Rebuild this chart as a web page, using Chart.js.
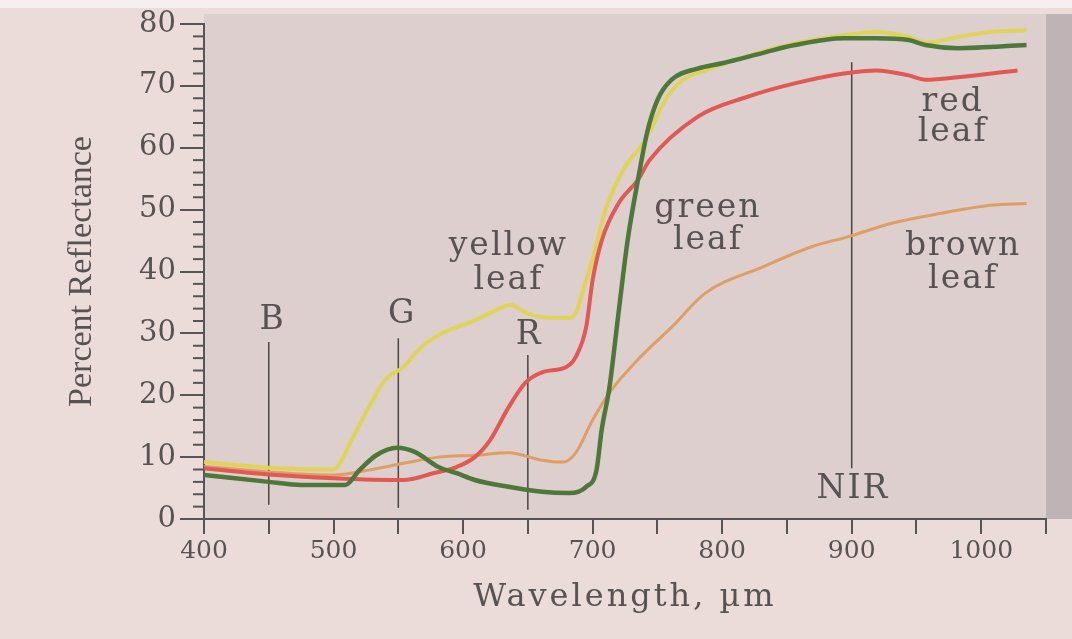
<!DOCTYPE html>
<html>
<head>
<meta charset="utf-8">
<script src="https://cdn.jsdelivr.net/npm/chart.js@4.4.1/dist/chart.umd.min.js"></script>
<style>
  html, body { margin: 0; padding: 0; background: #ecdcd9; }
  #wrap { width: 1072px; height: 639px; }
</style>
</head>
<body>
<div id="wrap"><canvas id="reflectanceChart"></canvas></div>
<script>
// wavelength (nm) and percent reflectance
const greenNm = [400, 450, 475, 509, 520, 533, 549, 563, 581, 595, 609, 635, 661, 682, 695, 703, 707, 713, 720, 727, 735, 742, 750, 761, 781, 801, 831, 856, 894, 919, 944, 957, 982, 1035];
const greenVal = [7.1, 6.0, 5.5, 5.5, 7.9, 10.3, 11.5, 10.8, 8.4, 7.4, 6.3, 5.2, 4.4, 4.2, 5.2, 7.9, 14.4, 21.3, 33.3, 45, 54.8, 62.4, 67.7, 71, 72.8, 73.7, 75.3, 76.6, 77.7, 77.7, 77.4, 76.6, 76.1, 76.6];

const redNm = [400, 450, 500, 554, 577, 595, 609, 621, 635, 648, 661, 680, 687, 695, 700, 707, 720, 735, 744, 781, 819, 856, 894, 919, 944, 957, 982, 1028];
const redVal = [8.2, 7.2, 6.6, 6.3, 7.4, 8.4, 10, 12.8, 18, 22, 23.7, 24.6, 26.2, 31, 38.6, 45, 51, 54.8, 58, 65, 68.2, 70.4, 72, 72.5, 71.7, 71, 71.4, 72.5];

const yellowNm = [400, 450, 500, 514, 527, 540, 554, 568, 581, 595, 609, 621, 637, 648, 661, 682, 687, 692, 700, 710, 725, 740, 757, 770, 787, 807, 856, 894, 919, 944, 957, 982, 1007, 1035];
const yellowVal = [9.2, 8.3, 8.0, 12.8, 18, 22.5, 24.6, 27.8, 29.7, 31, 32.1, 33.3, 34.6, 33.4, 32.6, 32.5, 33.3, 36.5, 42, 50, 56.9, 61, 68, 71, 72.5, 74, 76.9, 78.2, 78.7, 77.9, 77, 77.9, 78.7, 79];

const brownNm = [400, 450, 500, 527, 554, 581, 609, 635, 661, 677, 687, 700, 713, 737, 761, 787, 831, 869, 897, 931, 969, 1007, 1035];
const brownVal = [8.5, 7.6, 7.1, 7.9, 9, 10, 10.3, 10.7, 9.5, 9.2, 10.7, 16, 20.4, 26.2, 31, 36.5, 40.7, 44, 45.6, 47.8, 49.4, 50.7, 51];

// band marker lines
const markerNm = [450, 550, 650, 900];
const markerFrom = [2.3, 1.8, 1.5, 8.2];
const markerTo = [28.6, 29.2, 26.5, 73.8];

// text inside the plot
const noteText = ['yellow', 'leaf', 'green', 'leaf', 'red', 'leaf', 'brown', 'leaf', 'B', 'G', 'R', 'NIR'];
const noteNm = [635, 635, 789, 789, 978, 978, 986, 986, 453, 553, 651, 901];
const noteVal = [44.1, 38.6, 50.2, 45.1, 67.4, 62.4, 44.1, 38.8, 32.1, 33, 29.7, 4.7];

const yTicks = [0, 10, 20, 30, 40, 50, 60, 70, 80];

function toPoints(xs, ys) {
    return xs.map((x, i) => ({ x, y: ys[i] }));
}

const curve = (data, color, width) => ({
    data,
    borderColor: color,
    borderWidth: width,
    pointRadius: 0,
    fill: false,
    cubicInterpolationMode: 'monotone'
});

const markerSets = markerNm.map((nm, i) => ({
    data: [{ x: nm, y: markerFrom[i] }, { x: nm, y: markerTo[i] }],
    borderColor: '#4a4444',
    borderWidth: 1.5,
    pointRadius: 0
}));

const textColor = '#585252';

// wider letter spacing for the x axis title, as in the printed figure
function spaceTitle(scale) {
    if (scale._spaced) return;
    const orig = scale.drawTitle;
    scale.drawTitle = function (...args) {
        this.ctx.save();
        this.ctx.letterSpacing = '3px';
        orig.apply(this, args);
        this.ctx.restore();
    };
    scale._spaced = true;
}

const paperPlugin = {
    id: 'paper',
    beforeDraw(chart) {
        const { ctx, chartArea } = chart;
        ctx.save();
        ctx.fillStyle = '#ecdcd9';
        ctx.fillRect(0, 0, chart.width, chart.height);
        ctx.fillStyle = '#f4f0ef';
        ctx.fillRect(0, 0, chart.width, 8);
        ctx.fillStyle = '#dccfcd';
        ctx.fillRect(chartArea.left, chartArea.top - 10, chartArea.right - chartArea.left, chartArea.bottom - chartArea.top + 10);
        ctx.fillStyle = '#bfb3b5';
        ctx.fillRect(chartArea.right, chartArea.top - 10, chart.width - chartArea.right, chartArea.bottom - chartArea.top + 10);
        ctx.restore();
    },
    afterDatasetsDraw(chart) {
        const { ctx } = chart;
        const x = chart.scales.x;
        const y = chart.scales.y;
        ctx.save();
        // minor ticks on the y axis
        ctx.strokeStyle = '#555';
        ctx.lineWidth = 2;
        for (let v = 2; v < 80; v += 2) {
            if (v % 10 === 0) continue;
            const py = y.getPixelForValue(v);
            ctx.beginPath();
            ctx.moveTo(y.right - 11, py);
            ctx.lineTo(y.right, py);
            ctx.stroke();
        }
        // curve and band labels
        ctx.fillStyle = textColor;
        ctx.font = '33px "DejaVu Serif"';
        ctx.textAlign = 'center';
        ctx.textBaseline = 'middle';
        ctx.letterSpacing = '2px';
        noteText.forEach((t, i) => {
            ctx.fillText(t, x.getPixelForValue(noteNm[i]), y.getPixelForValue(noteVal[i]));
        });
        ctx.restore();
    }
};

new Chart(
    document.getElementById('reflectanceChart'),
    {
        type: 'line',
        data: {
            datasets: [
                curve(toPoints(greenNm, greenVal), 'rgb(78, 120, 58)', 4.5),
                curve(toPoints(redNm, redVal), 'rgb(226, 88, 82)', 4),
                curve(toPoints(yellowNm, yellowVal), 'rgb(224, 212, 88)', 4),
                curve(toPoints(brownNm, brownVal), 'rgb(222, 158, 100)', 3),
                ...markerSets
            ]
        },
        options: {
            responsive: true,
            maintainAspectRatio: false,
            animation: false,
            layout: { padding: { left: 0, right: 26, top: 24, bottom: 0 } },
            plugins: {
                legend: { display: false },
                tooltip: { enabled: false }
            },
            scales: {
                x: {
                    type: 'linear',
                    min: 400,
                    max: 1050,
                    afterFit: scale => { scale.height = 120; spaceTitle(scale); },
                    ticks: {
                        stepSize: 50,
                        autoSkip: false,
                        maxRotation: 0,
                        padding: 2,
                        color: textColor,
                        font: { family: 'DejaVu Serif', size: 25 },
                        callback: v => (v % 100 === 0 ? v : '')
                    },
                    grid: { drawOnChartArea: false, tickLength: 15, color: '#555', lineWidth: 2 },
                    border: { color: '#555', width: 2 },
                    title: {
                        display: true,
                        text: 'Wavelength, µm',
                        color: textColor,
                        font: { family: 'DejaVu Serif', size: 32 },
                        padding: { top: 0, bottom: 22 }
                    }
                },
                y: {
                    min: 0,
                    max: 80,
                    afterFit: scale => { scale.width = 204; },
                    afterBuildTicks: scale => { scale.ticks = yTicks.map(v => ({ value: v })); },
                    ticks: {
                        padding: 4,
                        color: textColor,
                        font: { family: 'DejaVu Serif', size: 29 }
                    },
                    grid: { drawOnChartArea: false, tickLength: 24, color: '#555', lineWidth: 2 },
                    border: { color: '#555', width: 2 },
                    title: {
                        display: true,
                        text: 'Percent Reflectance',
                        color: textColor,
                        font: { family: 'Liberation Serif', size: 34 },
                        padding: { top: 62, bottom: 0 }
                    }
                }
            }
        },
        plugins: [paperPlugin]
    }
);
</script>
</body>
</html>
